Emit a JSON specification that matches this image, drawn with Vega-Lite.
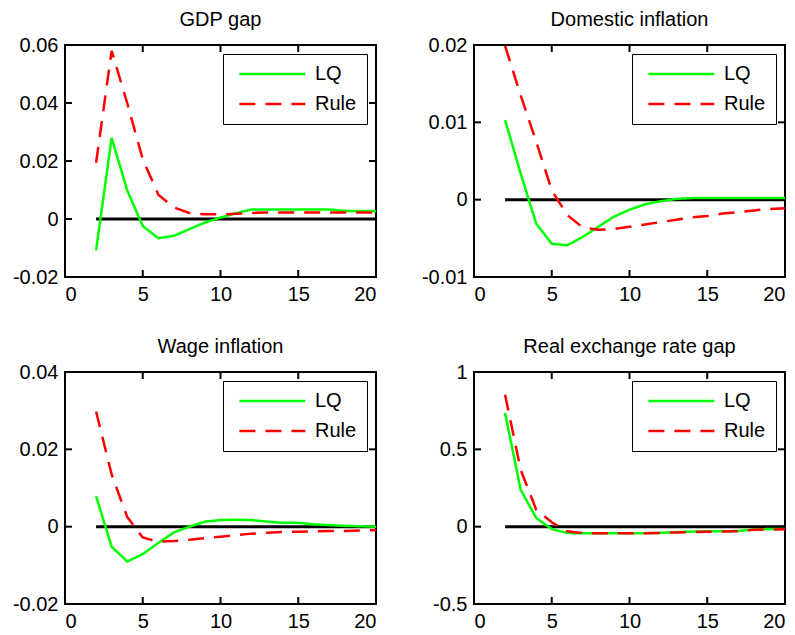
{
  "$schema": "https://vega.github.io/schema/vega-lite/v6.json",
  "background": "white",
  "padding": {"left": 11, "top": 9, "right": 5, "bottom": 5},
  "config": {
    "font": "Liberation Sans",
    "view": {"stroke": "black", "strokeWidth": 2},
    "axis": {"grid": false, "domain": false, "ticks": false, "labelFontSize": 20, "labelColor": "black", "labelPadding": 7, "labelFont": "Liberation Sans"},
    "title": {"fontSize": 20, "fontWeight": "normal", "color": "black", "offset": 5, "anchor": "middle", "font": "Liberation Sans"},
    "legend": {"orient": "top-right", "offset": 9, "strokeColor": "black", "fillColor": "white", "padding": 10, "symbolType": "M-1,0H9", "symbolSize": 174, "symbolOffset": 3, "symbolStrokeWidth": 3, "labelFontSize": 20, "labelOffset": 59, "rowPadding": 10, "labelColor": "black", "cornerRadius": 0, "labelFont": "Liberation Sans", "zindex": 5},
    "line": {"strokeWidth": 2.5},
    "tick": {"opacity": 1, "color": "black", "thickness": 2, "size": 7}
  },
  "datasets": {
    "xticks": [{"v": 5}, {"v": 10}, {"v": 15}],
    "ytA": [{"v": 0}, {"v": 0.02}, {"v": 0.04}],
    "ytB": [{"v": 0}, {"v": 0.01}],
    "ytC": [{"v": 0}, {"v": 0.02}],
    "ytD": [{"v": 0}, {"v": 0.5}],
    "one": [{}],
    "main": [
    {"p":"A","s":"LQ","t":2,"v":-0.0108},{"p":"A","s":"LQ","t":3,"v":0.028},{"p":"A","s":"LQ","t":4,"v":0.0099},{"p":"A","s":"LQ","t":5,"v":-0.0024},{"p":"A","s":"LQ","t":6,"v":-0.0066},{"p":"A","s":"LQ","t":7,"v":-0.0058},{"p":"A","s":"LQ","t":8,"v":-0.0035},{"p":"A","s":"LQ","t":9,"v":-0.0012},{"p":"A","s":"LQ","t":10,"v":0.0005},{"p":"A","s":"LQ","t":11,"v":0.002},{"p":"A","s":"LQ","t":12,"v":0.0033},{"p":"A","s":"LQ","t":13,"v":0.0033},{"p":"A","s":"LQ","t":14,"v":0.0033},{"p":"A","s":"LQ","t":15,"v":0.0033},{"p":"A","s":"LQ","t":16,"v":0.0033},{"p":"A","s":"LQ","t":17,"v":0.0033},{"p":"A","s":"LQ","t":18,"v":0.0028},{"p":"A","s":"LQ","t":19,"v":0.0028},{"p":"A","s":"LQ","t":20,"v":0.0027},
    {"p":"A","s":"Rule","t":2,"v":0.0194},{"p":"A","s":"Rule","t":3,"v":0.058},{"p":"A","s":"Rule","t":4,"v":0.040},{"p":"A","s":"Rule","t":5,"v":0.0206},{"p":"A","s":"Rule","t":6,"v":0.0084},{"p":"A","s":"Rule","t":7,"v":0.004},{"p":"A","s":"Rule","t":8,"v":0.0021},{"p":"A","s":"Rule","t":9,"v":0.0016},{"p":"A","s":"Rule","t":10,"v":0.0016},{"p":"A","s":"Rule","t":11,"v":0.0018},{"p":"A","s":"Rule","t":12,"v":0.0021},{"p":"A","s":"Rule","t":13,"v":0.0022},{"p":"A","s":"Rule","t":14,"v":0.0022},{"p":"A","s":"Rule","t":15,"v":0.0022},{"p":"A","s":"Rule","t":16,"v":0.0022},{"p":"A","s":"Rule","t":17,"v":0.0022},{"p":"A","s":"Rule","t":18,"v":0.0022},{"p":"A","s":"Rule","t":19,"v":0.0022},{"p":"A","s":"Rule","t":20,"v":0.0022},
    {"p":"B","s":"LQ","t":2,"v":0.0103},{"p":"B","s":"LQ","t":3,"v":0.0034},{"p":"B","s":"LQ","t":4,"v":-0.0031},{"p":"B","s":"LQ","t":5,"v":-0.0057},{"p":"B","s":"LQ","t":6,"v":-0.0059},{"p":"B","s":"LQ","t":7,"v":-0.0048},{"p":"B","s":"LQ","t":8,"v":-0.0035},{"p":"B","s":"LQ","t":9,"v":-0.0022},{"p":"B","s":"LQ","t":10,"v":-0.0013},{"p":"B","s":"LQ","t":11,"v":-0.0006},{"p":"B","s":"LQ","t":12,"v":-0.0002},{"p":"B","s":"LQ","t":13,"v":0.0001},{"p":"B","s":"LQ","t":14,"v":0.0002},{"p":"B","s":"LQ","t":15,"v":0.0002},{"p":"B","s":"LQ","t":16,"v":0.0002},{"p":"B","s":"LQ","t":17,"v":0.0002},{"p":"B","s":"LQ","t":18,"v":0.0002},{"p":"B","s":"LQ","t":19,"v":0.0002},{"p":"B","s":"LQ","t":20,"v":0.0002},
    {"p":"B","s":"Rule","t":2,"v":0.0199},{"p":"B","s":"Rule","t":3,"v":0.0135},{"p":"B","s":"Rule","t":4,"v":0.0075},{"p":"B","s":"Rule","t":5,"v":0.0012},{"p":"B","s":"Rule","t":6,"v":-0.002},{"p":"B","s":"Rule","t":7,"v":-0.0036},{"p":"B","s":"Rule","t":8,"v":-0.0039},{"p":"B","s":"Rule","t":9,"v":-0.0038},{"p":"B","s":"Rule","t":10,"v":-0.0035},{"p":"B","s":"Rule","t":11,"v":-0.0032},{"p":"B","s":"Rule","t":12,"v":-0.0029},{"p":"B","s":"Rule","t":13,"v":-0.0026},{"p":"B","s":"Rule","t":14,"v":-0.0023},{"p":"B","s":"Rule","t":15,"v":-0.0021},{"p":"B","s":"Rule","t":16,"v":-0.0018},{"p":"B","s":"Rule","t":17,"v":-0.0016},{"p":"B","s":"Rule","t":18,"v":-0.0014},{"p":"B","s":"Rule","t":19,"v":-0.0012},{"p":"B","s":"Rule","t":20,"v":-0.0011},
    {"p":"C","s":"LQ","t":2,"v":0.0079},{"p":"C","s":"LQ","t":3,"v":-0.0052},{"p":"C","s":"LQ","t":4,"v":-0.009},{"p":"C","s":"LQ","t":5,"v":-0.0071},{"p":"C","s":"LQ","t":6,"v":-0.0042},{"p":"C","s":"LQ","t":7,"v":-0.0015},{"p":"C","s":"LQ","t":8,"v":0.0},{"p":"C","s":"LQ","t":9,"v":0.0013},{"p":"C","s":"LQ","t":10,"v":0.0017},{"p":"C","s":"LQ","t":11,"v":0.0018},{"p":"C","s":"LQ","t":12,"v":0.0017},{"p":"C","s":"LQ","t":13,"v":0.0013},{"p":"C","s":"LQ","t":14,"v":0.001},{"p":"C","s":"LQ","t":15,"v":0.001},{"p":"C","s":"LQ","t":16,"v":0.0006},{"p":"C","s":"LQ","t":17,"v":0.0004},{"p":"C","s":"LQ","t":18,"v":0.0002},{"p":"C","s":"LQ","t":19,"v":0.0001},{"p":"C","s":"LQ","t":20,"v":0.0},
    {"p":"C","s":"Rule","t":2,"v":0.0298},{"p":"C","s":"Rule","t":3,"v":0.0135},{"p":"C","s":"Rule","t":4,"v":0.0025},{"p":"C","s":"Rule","t":5,"v":-0.0028},{"p":"C","s":"Rule","t":6,"v":-0.0039},{"p":"C","s":"Rule","t":7,"v":-0.0037},{"p":"C","s":"Rule","t":8,"v":-0.0034},{"p":"C","s":"Rule","t":9,"v":-0.003},{"p":"C","s":"Rule","t":10,"v":-0.0026},{"p":"C","s":"Rule","t":11,"v":-0.0022},{"p":"C","s":"Rule","t":12,"v":-0.0018},{"p":"C","s":"Rule","t":13,"v":-0.0016},{"p":"C","s":"Rule","t":14,"v":-0.0014},{"p":"C","s":"Rule","t":15,"v":-0.0013},{"p":"C","s":"Rule","t":16,"v":-0.0012},{"p":"C","s":"Rule","t":17,"v":-0.0011},{"p":"C","s":"Rule","t":18,"v":-0.0011},{"p":"C","s":"Rule","t":19,"v":-0.001},{"p":"C","s":"Rule","t":20,"v":-0.0009},
    {"p":"D","s":"LQ","t":2,"v":0.735},{"p":"D","s":"LQ","t":3,"v":0.239},{"p":"D","s":"LQ","t":4,"v":0.056},{"p":"D","s":"LQ","t":5,"v":-0.015},{"p":"D","s":"LQ","t":6,"v":-0.041},{"p":"D","s":"LQ","t":7,"v":-0.043},{"p":"D","s":"LQ","t":8,"v":-0.043},{"p":"D","s":"LQ","t":9,"v":-0.043},{"p":"D","s":"LQ","t":10,"v":-0.043},{"p":"D","s":"LQ","t":11,"v":-0.042},{"p":"D","s":"LQ","t":12,"v":-0.04},{"p":"D","s":"LQ","t":13,"v":-0.035},{"p":"D","s":"LQ","t":14,"v":-0.032},{"p":"D","s":"LQ","t":15,"v":-0.03},{"p":"D","s":"LQ","t":16,"v":-0.03},{"p":"D","s":"LQ","t":17,"v":-0.028},{"p":"D","s":"LQ","t":18,"v":-0.018},{"p":"D","s":"LQ","t":19,"v":-0.015},{"p":"D","s":"LQ","t":20,"v":-0.015},
    {"p":"D","s":"Rule","t":2,"v":0.853},{"p":"D","s":"Rule","t":3,"v":0.368},{"p":"D","s":"Rule","t":4,"v":0.11},{"p":"D","s":"Rule","t":5,"v":0.028},{"p":"D","s":"Rule","t":6,"v":-0.03},{"p":"D","s":"Rule","t":7,"v":-0.041},{"p":"D","s":"Rule","t":8,"v":-0.043},{"p":"D","s":"Rule","t":9,"v":-0.043},{"p":"D","s":"Rule","t":10,"v":-0.043},{"p":"D","s":"Rule","t":11,"v":-0.043},{"p":"D","s":"Rule","t":12,"v":-0.04},{"p":"D","s":"Rule","t":13,"v":-0.037},{"p":"D","s":"Rule","t":14,"v":-0.035},{"p":"D","s":"Rule","t":15,"v":-0.033},{"p":"D","s":"Rule","t":16,"v":-0.032},{"p":"D","s":"Rule","t":17,"v":-0.03},{"p":"D","s":"Rule","t":18,"v":-0.02},{"p":"D","s":"Rule","t":19,"v":-0.018},{"p":"D","s":"Rule","t":20,"v":-0.017}
    ]
  },
  "columns": 2,
  "spacing": {"row": 31, "column": 38},
  "resolve": {"scale": {"color": "independent", "strokeDash": "independent"}, "legend": {"color": "independent", "strokeDash": "independent"}},
  "concat": [
    {
      "width": 311, "height": 232, "title": "GDP gap",
      "layer": [
        {"data": {"name": "one"}, "mark": {"type": "rule", "color": "black", "strokeWidth": 3},
         "encoding": {"x": {"datum": 2, "type": "quantitative", "scale": {"domain": [0, 20], "nice": false}, "axis": null}, "x2": {"datum": 20}, "y": {"datum": 0, "type": "quantitative", "scale": {"domain": [-0.02, 0.06], "nice": false}, "axis": null}}},
        {"data": {"name": "xticks"}, "mark": {"type": "tick", "orient": "vertical", "yOffset": -3.5},
         "encoding": {"x": {"field": "v", "type": "quantitative", "axis": null}, "y": {"datum": -0.02, "type": "quantitative", "axis": null}}},
        {"data": {"name": "xticks"}, "mark": {"type": "tick", "orient": "vertical", "yOffset": 3.5},
         "encoding": {"x": {"field": "v", "type": "quantitative", "axis": null}, "y": {"datum": 0.06, "type": "quantitative", "axis": null}}},
        {"data": {"name": "ytA"}, "mark": {"type": "tick", "orient": "horizontal", "xOffset": 3.5},
         "encoding": {"y": {"field": "v", "type": "quantitative", "axis": null}, "x": {"datum": 0, "type": "quantitative", "axis": null}}},
        {"data": {"name": "ytA"}, "mark": {"type": "tick", "orient": "horizontal", "xOffset": -3.5},
         "encoding": {"y": {"field": "v", "type": "quantitative", "axis": null}, "x": {"datum": 20, "type": "quantitative", "axis": null}}},
        {"data": {"name": "main"}, "transform": [{"filter": "datum.p == 'A'"}], "mark": {"type": "line", "strokeWidth": 2.5},
         "encoding": {
           "x": {"field": "t", "type": "quantitative", "scale": {"domain": [0, 20], "nice": false}, "axis": {"values": [0, 5, 10, 15, 20], "labelExpr": "'' + datum.value"}, "title": null},
           "y": {"field": "v", "type": "quantitative", "scale": {"domain": [-0.02, 0.06], "nice": false}, "axis": {"values": [-0.02, 0, 0.02, 0.04, 0.06], "labelExpr": "'' + datum.value"}, "title": null},
           "color": {"field": "s", "type": "nominal", "scale": {"domain": ["LQ", "Rule"], "range": ["#00ff00", "#ff0000"]}, "title": null, "legend": {"encode": {"legend": {"update": {"strokeWidth": {"value": 2}}}}}},
           "strokeDash": {"field": "s", "type": "nominal", "scale": {"domain": ["LQ", "Rule"], "range": [[1, 0], [16, 10]]}, "title": null}
         }}
      ],
      "resolve": {"axis": {"x": "independent", "y": "independent"}}
    },
    {
      "width": 311, "height": 232, "title": "Domestic inflation",
      "layer": [
        {"data": {"name": "one"}, "mark": {"type": "rule", "color": "black", "strokeWidth": 3},
         "encoding": {"x": {"datum": 2, "type": "quantitative", "scale": {"domain": [0, 20], "nice": false}, "axis": null}, "x2": {"datum": 20}, "y": {"datum": 0, "type": "quantitative", "scale": {"domain": [-0.01, 0.02], "nice": false}, "axis": null}}},
        {"data": {"name": "xticks"}, "mark": {"type": "tick", "orient": "vertical", "yOffset": -3.5},
         "encoding": {"x": {"field": "v", "type": "quantitative", "axis": null}, "y": {"datum": -0.01, "type": "quantitative", "axis": null}}},
        {"data": {"name": "xticks"}, "mark": {"type": "tick", "orient": "vertical", "yOffset": 3.5},
         "encoding": {"x": {"field": "v", "type": "quantitative", "axis": null}, "y": {"datum": 0.02, "type": "quantitative", "axis": null}}},
        {"data": {"name": "ytB"}, "mark": {"type": "tick", "orient": "horizontal", "xOffset": 3.5},
         "encoding": {"y": {"field": "v", "type": "quantitative", "axis": null}, "x": {"datum": 0, "type": "quantitative", "axis": null}}},
        {"data": {"name": "ytB"}, "mark": {"type": "tick", "orient": "horizontal", "xOffset": -3.5},
         "encoding": {"y": {"field": "v", "type": "quantitative", "axis": null}, "x": {"datum": 20, "type": "quantitative", "axis": null}}},
        {"data": {"name": "main"}, "transform": [{"filter": "datum.p == 'B'"}], "mark": {"type": "line", "strokeWidth": 2.5},
         "encoding": {
           "x": {"field": "t", "type": "quantitative", "scale": {"domain": [0, 20], "nice": false}, "axis": {"values": [0, 5, 10, 15, 20], "labelExpr": "'' + datum.value"}, "title": null},
           "y": {"field": "v", "type": "quantitative", "scale": {"domain": [-0.01, 0.02], "nice": false}, "axis": {"values": [-0.01, 0, 0.01, 0.02], "labelExpr": "'' + datum.value"}, "title": null},
           "color": {"field": "s", "type": "nominal", "scale": {"domain": ["LQ", "Rule"], "range": ["#00ff00", "#ff0000"]}, "title": null, "legend": {"encode": {"legend": {"update": {"strokeWidth": {"value": 2}}}}}},
           "strokeDash": {"field": "s", "type": "nominal", "scale": {"domain": ["LQ", "Rule"], "range": [[1, 0], [16, 10]]}, "title": null}
         }}
      ],
      "resolve": {"axis": {"x": "independent", "y": "independent"}}
    },
    {
      "width": 311, "height": 232, "title": "Wage inflation",
      "layer": [
        {"data": {"name": "one"}, "mark": {"type": "rule", "color": "black", "strokeWidth": 3},
         "encoding": {"x": {"datum": 2, "type": "quantitative", "scale": {"domain": [0, 20], "nice": false}, "axis": null}, "x2": {"datum": 20}, "y": {"datum": 0, "type": "quantitative", "scale": {"domain": [-0.02, 0.04], "nice": false}, "axis": null}}},
        {"data": {"name": "xticks"}, "mark": {"type": "tick", "orient": "vertical", "yOffset": -3.5},
         "encoding": {"x": {"field": "v", "type": "quantitative", "axis": null}, "y": {"datum": -0.02, "type": "quantitative", "axis": null}}},
        {"data": {"name": "xticks"}, "mark": {"type": "tick", "orient": "vertical", "yOffset": 3.5},
         "encoding": {"x": {"field": "v", "type": "quantitative", "axis": null}, "y": {"datum": 0.04, "type": "quantitative", "axis": null}}},
        {"data": {"name": "ytC"}, "mark": {"type": "tick", "orient": "horizontal", "xOffset": 3.5},
         "encoding": {"y": {"field": "v", "type": "quantitative", "axis": null}, "x": {"datum": 0, "type": "quantitative", "axis": null}}},
        {"data": {"name": "ytC"}, "mark": {"type": "tick", "orient": "horizontal", "xOffset": -3.5},
         "encoding": {"y": {"field": "v", "type": "quantitative", "axis": null}, "x": {"datum": 20, "type": "quantitative", "axis": null}}},
        {"data": {"name": "main"}, "transform": [{"filter": "datum.p == 'C'"}], "mark": {"type": "line", "strokeWidth": 2.5},
         "encoding": {
           "x": {"field": "t", "type": "quantitative", "scale": {"domain": [0, 20], "nice": false}, "axis": {"values": [0, 5, 10, 15, 20], "labelExpr": "'' + datum.value"}, "title": null},
           "y": {"field": "v", "type": "quantitative", "scale": {"domain": [-0.02, 0.04], "nice": false}, "axis": {"values": [-0.02, 0, 0.02, 0.04], "labelExpr": "'' + datum.value"}, "title": null},
           "color": {"field": "s", "type": "nominal", "scale": {"domain": ["LQ", "Rule"], "range": ["#00ff00", "#ff0000"]}, "title": null, "legend": {"encode": {"legend": {"update": {"strokeWidth": {"value": 2}}}}}},
           "strokeDash": {"field": "s", "type": "nominal", "scale": {"domain": ["LQ", "Rule"], "range": [[1, 0], [16, 10]]}, "title": null}
         }}
      ],
      "resolve": {"axis": {"x": "independent", "y": "independent"}}
    },
    {
      "width": 311, "height": 232, "title": "Real exchange rate gap",
      "layer": [
        {"data": {"name": "one"}, "mark": {"type": "rule", "color": "black", "strokeWidth": 3},
         "encoding": {"x": {"datum": 2, "type": "quantitative", "scale": {"domain": [0, 20], "nice": false}, "axis": null}, "x2": {"datum": 20}, "y": {"datum": 0, "type": "quantitative", "scale": {"domain": [-0.5, 1], "nice": false}, "axis": null}}},
        {"data": {"name": "xticks"}, "mark": {"type": "tick", "orient": "vertical", "yOffset": -3.5},
         "encoding": {"x": {"field": "v", "type": "quantitative", "axis": null}, "y": {"datum": -0.5, "type": "quantitative", "axis": null}}},
        {"data": {"name": "xticks"}, "mark": {"type": "tick", "orient": "vertical", "yOffset": 3.5},
         "encoding": {"x": {"field": "v", "type": "quantitative", "axis": null}, "y": {"datum": 1, "type": "quantitative", "axis": null}}},
        {"data": {"name": "ytD"}, "mark": {"type": "tick", "orient": "horizontal", "xOffset": 3.5},
         "encoding": {"y": {"field": "v", "type": "quantitative", "axis": null}, "x": {"datum": 0, "type": "quantitative", "axis": null}}},
        {"data": {"name": "ytD"}, "mark": {"type": "tick", "orient": "horizontal", "xOffset": -3.5},
         "encoding": {"y": {"field": "v", "type": "quantitative", "axis": null}, "x": {"datum": 20, "type": "quantitative", "axis": null}}},
        {"data": {"name": "main"}, "transform": [{"filter": "datum.p == 'D'"}], "mark": {"type": "line", "strokeWidth": 2.5},
         "encoding": {
           "x": {"field": "t", "type": "quantitative", "scale": {"domain": [0, 20], "nice": false}, "axis": {"values": [0, 5, 10, 15, 20], "labelExpr": "'' + datum.value"}, "title": null},
           "y": {"field": "v", "type": "quantitative", "scale": {"domain": [-0.5, 1], "nice": false}, "axis": {"values": [-0.5, 0, 0.5, 1], "labelExpr": "'' + datum.value"}, "title": null},
           "color": {"field": "s", "type": "nominal", "scale": {"domain": ["LQ", "Rule"], "range": ["#00ff00", "#ff0000"]}, "title": null, "legend": {"encode": {"legend": {"update": {"strokeWidth": {"value": 2}}}}}},
           "strokeDash": {"field": "s", "type": "nominal", "scale": {"domain": ["LQ", "Rule"], "range": [[1, 0], [16, 10]]}, "title": null}
         }}
      ],
      "resolve": {"axis": {"x": "independent", "y": "independent"}}
    }
  ]
}
